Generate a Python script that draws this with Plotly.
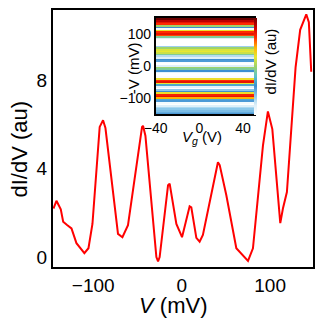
import plotly.graph_objects as go

# main dI/dV curve
bias_mv = [-145, -141.6, -136.7, -134, -129.6, -124.6, -119, -110, -105.4, -100.9,
           -92.7, -88.9, -86.2, -72, -67, -60.7, -44.8, -43.7, -41, -28.6,
           -26.7, -24.9, -15.4, -13.6, -6, 0.4, 9, 10.9, 16.6, 20.3,
           24, 41, 43, 50.5, 61.8, 75, 80.6, 91.9, 97.5, 102.5,
           111.5, 114.5, 119, 128.8, 134, 140.9, 143.8, 146.5]
didv = [2.2, 2.55, 2.16, 1.6, 1.45, 1.3, 0.63, 0.18, 0.4, 1.5,
        5.9, 6.2, 5.85, 1.05, 0.9, 1.45, 5.9, 5.95, 5.5, 0.0,
        -0.2, 0.0, 3.26, 3.33, 1.5, 0.9, 2.3, 2.25, 0.87, 0.7,
        1.0, 4.3, 4.17, 2.8, 0.4, -0.17, 0.4, 5.05, 6.6, 5.8,
        1.54, 2.2, 2.95, 8.6, 10.3, 11.0, 10.65, 8.4]

# inset map: stripes along -V, same for every gate voltage
gate_v = [-40, -30, -20, -10, 0, 10, 20, 30, 40, 50]
neg_v = list(range(150, -151, -5))
stripe = [1.0, 1.0, 0.92, 0.85, 0.8, 0.5, 0.3, 0.02, 0.62, 0.8,
          0.85, 0.78, 0.45, 0.1, 0.0, 0.0, 0.0, 0.0, 0.18, 0.5,
          0.58, 0.6, 0.56, 0.45, 0.15, 0.1, 0.3, 0.28, 0.02, 0.0,
          0.1, 0.5, 0.45, 0.3, 0.08, 0.0, 0.0, 0.02, 0.62, 0.8,
          0.85, 0.6, 0.35, 0.08, 0.0, 0.2, 0.3, 0.62, 0.82, 0.85,
          0.7, 0.35, 0.28, 0.03, 0.0, 0.1, 0.16, 0.2, 0.22, 0.25,
          0.28]
zmap = [[s] * len(gate_v) for s in stripe]

cmap = [[0.0, '#ffffff'], [0.1, '#dff0f9'], [0.2, '#8cc8ea'], [0.3, '#3d8fd1'],
        [0.4, '#5fc4c8'], [0.5, '#9fd36a'], [0.6, '#e8e832'], [0.7, '#ffb000'],
        [0.8, '#ff2a00'], [0.9, '#d00000'], [1.0, '#6e0000']]

font = 'Liberation Sans, Arial, sans-serif'

fig = go.Figure()

fig.add_trace(go.Scatter(x=bias_mv, y=didv, mode='lines',
                         line=dict(color='#ff0000', width=2),
                         showlegend=False))

fig.add_trace(go.Heatmap(x=gate_v, y=neg_v, z=zmap, colorscale=cmap,
                         zmin=0, zmax=1, xaxis='x2', yaxis='y2',
                         colorbar=dict(x=0.773, xanchor='left', y=0.782, yanchor='middle',
                                       len=0.376, thickness=3, xpad=0, ypad=0,
                                       outlinewidth=0, showticklabels=False, ticks='')))

# page body has an 8px margin, so the figure is 8px smaller and shifted
fig.update_layout(
    width=324, height=317,
    margin=dict(l=45, r=19, t=0, b=58),
    plot_bgcolor='white', paper_bgcolor='white',
    font=dict(family=font, color='black'),
    xaxis=dict(range=[-145.5, 148.5], tickvals=[-100, 0, 100], ticks='',
               showgrid=False, zeroline=False, showline=True, mirror=True,
               linecolor='black', linewidth=2, tickfont=dict(size=19)),
    yaxis=dict(range=[-0.45, 11.2], tickvals=[0, 4, 8], ticks='',
               showgrid=False, zeroline=False, showline=True, mirror=True,
               linecolor='black', linewidth=2, tickfont=dict(size=19)),
    xaxis2=dict(domain=[0.395, 0.773], anchor='y2', range=[-40, 50],
                tickvals=[-40, 0, 40], ticks='', showgrid=False, zeroline=False,
                showline=True, mirror=True, linecolor='black', linewidth=1.5,
                tickfont=dict(size=14), ticklabelstandoff=0),
    yaxis2=dict(domain=[0.594, 0.970], anchor='x2', range=[-150, 150],
                tickvals=[-100, 0, 100], ticks='', showgrid=False, zeroline=False,
                showline=True, mirror=True, linecolor='black', linewidth=1.5,
                tickfont=dict(size=14), ticklabelstandoff=0),
)

titles = [
    dict(text='<i>V</i> (mV)', x=0.462, y=-0.148, size=22, angle=0),
    dict(text='dI/dV (au)', x=-0.127, y=0.461, size=22, angle=-90),
    dict(text='-V (mV)', x=0.308, y=0.774, size=15, angle=-90),
    dict(text='<i>V</i><sub><i>g</i></sub> (V)', x=0.573, y=0.505, size=15, angle=0),
    dict(text='dI/dV (au)', x=0.835, y=0.80, size=15, angle=-90),
]
for t in titles:
    fig.add_annotation(text=t['text'], x=t['x'], y=t['y'], xref='paper', yref='paper',
                       xanchor='center', yanchor='middle', showarrow=False,
                       textangle=t['angle'], font=dict(size=t['size'], family=font))

fig.write_html("out.html")
